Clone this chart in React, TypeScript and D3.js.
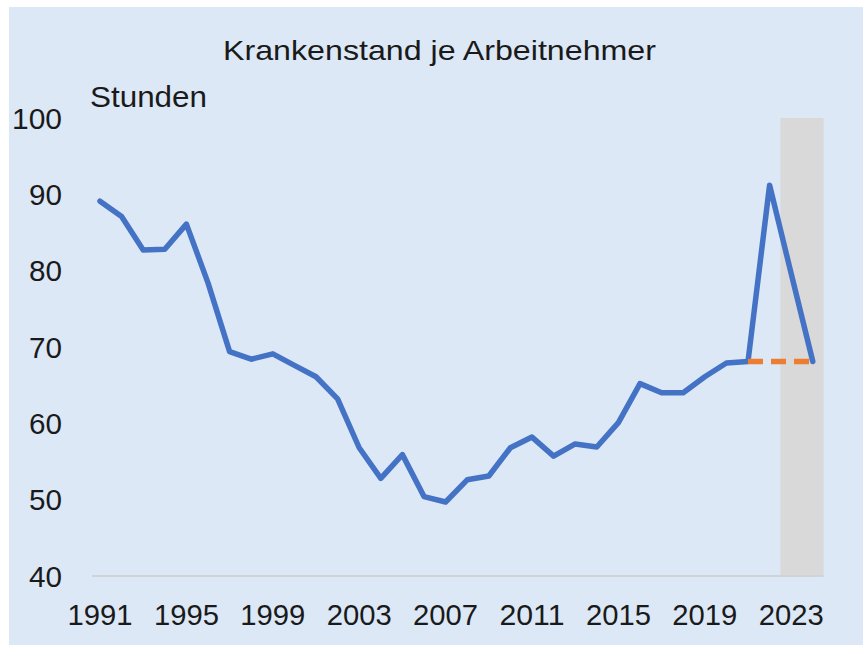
import React from "react";
import * as d3 from "d3";

const years: number[] = d3.range(1991, 2025);
const values: number[] = [
  89.1, 87.1, 82.7, 82.8, 86.1, 78.4, 69.4, 68.4, 69.1, 67.6,
  66.1, 63.2, 56.8, 52.8, 55.9, 50.4, 49.7, 52.6, 53.1, 56.8,
  58.2, 55.7, 57.3, 56.9, 60.1, 65.2, 64.0, 64.0, 66.1, 67.9,
  68.1, 91.2, 79.6, 68.1,
];
const refYears: number[] = [2021, 2024];
const refValues: number[] = [68.1, 68.1];
const yTicks: number[] = [40, 50, 60, 70, 80, 90, 100];
const xTickYears: number[] = [1991, 1995, 1999, 2003, 2007, 2011, 2015, 2019, 2023];
const shadeRange: number[] = [2022.5, 2024.5];

const FONT = "'Liberation Sans', Arial, Helvetica, sans-serif";

export default function App() {
  const W = 863;
  const H = 646;
  const x = d3.scaleLinear().domain([1991, 2024]).range([100, 812.8]);
  const y = d3.scaleLinear().domain([40, 100]).range([576, 118]);

  const line = d3
    .line<number>()
    .x((_, i) => x(years[i]))
    .y((d) => y(d));
  const refLine = d3
    .line<number>()
    .x((_, i) => x(refYears[i]))
    .y((d) => y(d));

  return (
    <svg
      width={W}
      height={H}
      style={{ position: "absolute", left: 0, top: 0 }}
    >
      <rect x={0} y={0} width={W} height={H} fill="#ffffff" />
      <rect x={9} y={7} width={W - 9} height={638} fill="#dce8f6" />
      <rect
        x={x(shadeRange[0])}
        y={y(100)}
        width={x(shadeRange[1]) - x(shadeRange[0])}
        height={y(40) - y(100)}
        fill="#d9d9d9"
      />
      <line
        x1={92}
        x2={x(shadeRange[1])}
        y1={y(40)}
        y2={y(40)}
        stroke="#d0d4d9"
        strokeWidth={2}
      />
      <text
        x={223}
        y={60}
        fontFamily={FONT}
        fontSize={28}
        textLength={433}
        lengthAdjust="spacingAndGlyphs"
        fill="#1a1a1a"
      >
        Krankenstand je Arbeitnehmer
      </text>
      <text
        x={90}
        y={107}
        fontFamily={FONT}
        fontSize={30}
        textLength={117}
        lengthAdjust="spacingAndGlyphs"
        fill="#1a1a1a"
      >
        Stunden
      </text>
      {yTicks.map((t) => (
        <text
          key={t}
          x={62}
          y={y(t) + 10.5}
          textAnchor="end"
          fontFamily={FONT}
          fontSize={29}
          textLength={t === 100 ? 50 : 33}
          lengthAdjust="spacingAndGlyphs"
          fill="#1a1a1a"
        >
          {t}
        </text>
      ))}
      {xTickYears.map((t) => (
        <text
          key={t}
          x={x(t)}
          y={625}
          textAnchor="middle"
          fontFamily={FONT}
          fontSize={29.5}
          textLength={65}
          lengthAdjust="spacingAndGlyphs"
          fill="#1a1a1a"
        >
          {t}
        </text>
      ))}
      <path
        d={line(values) || ""}
        fill="none"
        stroke="#4472c4"
        strokeWidth={5.5}
        strokeLinejoin="round"
        strokeLinecap="round"
      />
      <path
        d={refLine(refValues) || ""}
        fill="none"
        stroke="#ed7d31"
        strokeWidth={5.5}
        strokeDasharray="15 8"
        strokeLinecap="butt"
      />
    </svg>
  );
}
